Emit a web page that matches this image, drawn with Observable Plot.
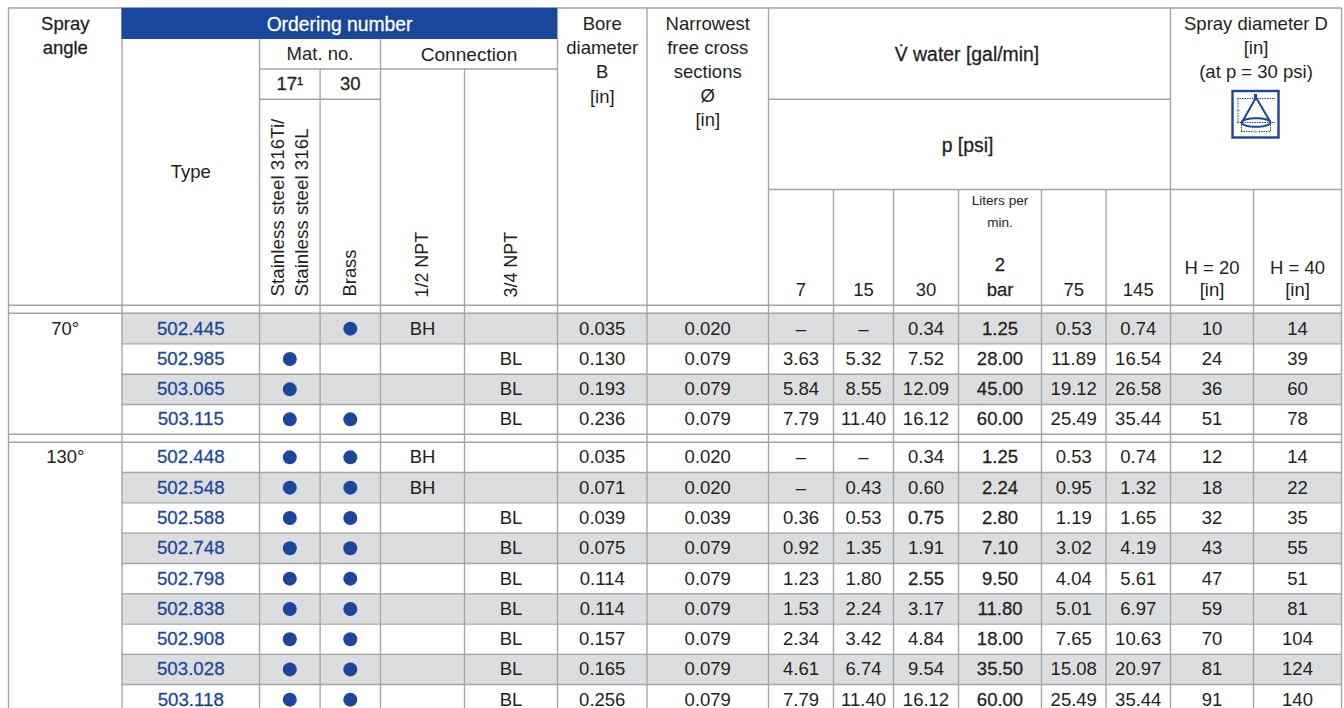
<!DOCTYPE html>
<html>
<head>
<meta charset="utf-8">
<style>
html,body{margin:0;padding:0;background:#fff;overflow:hidden}
svg{display:block}
</style>
<script src="https://cdn.jsdelivr.net/npm/d3@7"></script>
<script src="https://cdn.jsdelivr.net/npm/@observablehq/plot@0.6"></script>
</head>
<body>
<div id="chart"></div>
<script>
// ---- table content ----
const types = ["502.445","502.985","503.065","503.115","502.448","502.548","502.588","502.748","502.798","502.838","502.908","503.028","503.118"];
const angles = ["70°","130°"];
const mat17 = [0,1,1,1,1,1,1,1,1,1,1,1,1];
const mat30 = [1,0,0,1,1,1,1,1,1,1,1,1,1];
const conn12 = ["BH","","","","BH","BH","","","","","","",""];
const conn34 = ["","BL","BL","BL","","","BL","BL","BL","BL","BL","BL","BL"];
const bore = ["0.035","0.130","0.193","0.236","0.035","0.071","0.039","0.075","0.114","0.114","0.157","0.165","0.256"];
const narrowest = ["0.020","0.079","0.079","0.079","0.020","0.020","0.039","0.079","0.079","0.079","0.079","0.079","0.079"];
const p7 = ["–","3.63","5.84","7.79","–","–","0.36","0.92","1.23","1.53","2.34","4.61","7.79"];
const p15 = ["–","5.32","8.55","11.40","–","0.43","0.53","1.35","1.80","2.24","3.42","6.74","11.40"];
const p30 = ["0.34","7.52","12.09","16.12","0.34","0.60","0.75","1.91","2.55","3.17","4.84","9.54","16.12"];
const lpm2bar = ["1.25","28.00","45.00","60.00","1.25","2.24","2.80","7.10","9.50","11.80","18.00","35.50","60.00"];
const p75 = ["0.53","11.89","19.12","25.49","0.53","0.95","1.19","3.02","4.04","5.01","7.65","15.08","25.49"];
const p145 = ["0.74","16.54","26.58","35.44","0.74","1.32","1.65","4.19","5.61","6.97","10.63","20.97","35.44"];
const h20 = ["10","24","36","51","12","18","32","43","47","59","70","81","91"];
const h40 = ["14","39","60","78","14","22","35","55","51","81","104","124","140"];
const boldP30 = ["0.75","2.55"];

// ---- grid layout (pixel-valued scale domain) ----
const X = [8,121.5,259,319.6,380,464,557,646.5,768,833,893,958,1041,1105.5,1170,1253,1341];
const rowTops = [313,343.3,373.7,404,441.7,472,502.3,532.6,563,593.3,623.6,653.8,684];
const rowBottoms = [343.3,373.7,404,433.7,472,502.3,532.6,563,593.3,623.6,653.8,684,714.3];
const mid = (a,b)=>(a+b)/2;
const colMid = i => mid(X[i],X[i+1]);
const rowMid = i => mid(rowTops[i],rowBottoms[i]);
const shaded = [0,2,5,7,9,11];

const C = {blue:"#1a479b",line:"#a3a4a6",fill:"#dcddde",text:"#231f20"};
const FONT = "'Liberation Sans',Arial,Helvetica,sans-serif";
const FS = 18.5;

// body cells
const bodyCols = [[4,conn12],[5,conn34],[6,bore],[7,narrowest],[8,p7],[9,p15],[10,p30],[12,p75],[13,p145],[14,h20],[15,h40]];
const bodyRegular = bodyCols.flatMap(([c,arr])=>arr.map((t,i)=>({x:colMid(c),y:rowMid(i),t})))
  .filter(d=>d.t!=="" && !(d.x===colMid(10)&&boldP30.includes(d.t)));
const bodyBold = [
  ...lpm2bar.map((t,i)=>({x:colMid(11),y:rowMid(i),t})),
  ...p30.map((t,i)=>({x:colMid(10),y:rowMid(i),t})).filter(d=>boldP30.includes(d.t))
];
const typeCells = types.map((t,i)=>({x:colMid(1),y:rowMid(i),t}));
const angleCells = [{x:colMid(0),y:rowMid(0),t:angles[0]},{x:colMid(0),y:rowMid(4),t:angles[1]}];
const dots = [
  ...mat17.flatMap((v,i)=>v?[{x:colMid(2),y:rowMid(i)}]:[]),
  ...mat30.flatMap((v,i)=>v?[{x:colMid(3),y:rowMid(i)}]:[])
];
const fills = shaded.map(i=>({x1:X[1],x2:X[16],y1:rowTops[i],y2:rowBottoms[i]}));

// header text
const headPlain = [
  ["Mat. no.",mid(X[2],X[4]),54],["Type",colMid(1),172],
  ["Bore",colMid(6),24],["diameter",colMid(6),48],["B",colMid(6),72],["[in]",colMid(6),97],
  ["Narrowest",colMid(7),24],["free cross",colMid(7),48],["sections",colMid(7),72],["Ø",colMid(7),96],["[in]",colMid(7),120],
  ["Spray diameter D",mid(X[14],X[16]),24],["[in]",mid(X[14],X[16]),48],["(at p = 30 psi)",mid(X[14],X[16]),72],
  ["7",colMid(8),290],["15",colMid(9),290],["30",colMid(10),290],["75",colMid(12),290],["145",colMid(13),290],
  ["H = 20",colMid(14),268],["[in]",colMid(14),290],["H = 40",colMid(15),268],["[in]",colMid(15),290]
].map(([t,x,y])=>({t,x,y}));
const headMedium = [
  ["Spray",colMid(0),24],["angle",colMid(0),48],["17¹",colMid(2),84],["30",colMid(3),84],
  ["2",colMid(11),265],["bar",colMid(11),290]
].map(([t,x,y])=>({t,x,y}));
const headWideMedium = [
  ["V̇ water [gal/min]",966.5,54],["p [psi]",967,145]
].map(([t,x,y])=>({t,x,y}));
const headSmall = [["Liters per",colMid(11),200],["min.",colMid(11),222]].map(([t,x,y])=>({t,x,y}));
const headRotWide = [["Stainless steel 316Ti/",277,296],["Stainless steel 316L",301.5,296]].map(([t,x,y])=>({t,x,y}));
const headRot = [["Brass",350,296]].map(([t,x,y])=>({t,x,y}));
const headRotNarrow = [["1/2 NPT",422,297],["3/4 NPT",511,297]].map(([t,x,y])=>({t,x,y}));

// rules
const vRules = [
  [0,7.5],[1,7.5],[2,38.5],[3,68.5],[4,38.5],[5,68.5],[6,7.5],[7,7.5],[8,7.5],
  [9,189],[10,189],[11,189],[12,189],[13,189],[14,7.5],[15,189],[16,7.5]
].map(([i,y1])=>({x:X[i],y1,y2:708}));
const Y1=7.5,Y3=68.5,Y4=98.7,Y5=189,Y6=304.7,Y7=312.7,Y8=433.7,Y9=441.7;
const hRules = [
  {y:Y1,x1:X[0],x2:X[1]},{y:Y1,x1:X[6],x2:X[16]},
  {y:Y3,x1:X[2],x2:X[6]},{y:Y4,x1:X[2],x2:X[4]},{y:Y4,x1:X[8],x2:X[14]},{y:Y5,x1:X[8],x2:X[16]},
  {y:Y6,x1:X[0],x2:X[16]},{y:Y7,x1:X[0],x2:X[16]},{y:Y8,x1:X[0],x2:X[16]},{y:Y9,x1:X[0],x2:X[16]},
  ...[343.3,373.7,404,472,502.3,532.6,563,593.3,623.6,653.8,684].map(y=>({y,x1:X[1],x2:X[16]}))
];

// spray icon
const icon = {
  frame:[{x1:1232.5,x2:1278.5,y1:91,y2:137.5}],
  cone:[[1242.5,120],[1255.5,97],[1269,120]].map(([x,y])=>({x,y})),
  ellipse:d3.range(0,361,10).map(a=>({x:1255.5+14.5*Math.cos(a*Math.PI/180),y:122+4.3*Math.sin(a*Math.PI/180)})),
  nozzle:[{x1:1254,x2:1257,y1:94,y2:98}],
  dashH:[{y:98,x1:1237,x2:1275},{y:122,x1:1237,x2:1275},{y:131,x1:1241,x2:1270}],
  dashV:[{x:1237.5,y1:98,y2:122},{x:1241,y1:122,y2:131},{x:1270,y1:122,y2:131}],
  labels:[{x:1237.5,y:110,t:"H"},{x:1255.5,y:131,t:"D"}]
};

const txt = (data,opt)=>Plot.text(data,{x:"x",y:"y",text:"t",fontFamily:FONT,fontSize:FS,fill:C.text,lineAnchor:"middle",textAnchor:"middle",...opt});
const medium = c=>({stroke:c,strokeWidth:0.28,paintOrder:"normal"});

const chart = Plot.plot({
  width:1344,height:708,margin:0,
  x:{domain:[0,1344],range:[0,1344],axis:null},
  y:{domain:[0,708],range:[0,708],axis:null},
  style:{background:"#fff"},
  marks:[
    Plot.rect(fills,{x1:"x1",x2:"x2",y1:"y1",y2:"y2",fill:C.fill}),
    Plot.ruleX(vRules,{x:"x",y1:"y1",y2:"y2",stroke:C.line,strokeWidth:1.35}),
    Plot.ruleY(hRules,{y:"y",x1:"x1",x2:"x2",stroke:C.line,strokeWidth:1.35}),
    Plot.rect([{x1:X[1],x2:X[6],y1:7.5,y2:39}],{x1:"x1",x2:"x2",y1:"y1",y2:"y2",fill:C.blue}),
    txt([{t:"Ordering number",x:339,y:24}],{fill:"#fff",fontSize:19.3,...medium("#fff")}),
    txt([{t:"Connection",x:mid(X[4],X[6]),y:54.5}],{fontSize:19.1}),
    txt(headPlain),
    txt(headMedium,medium(C.text)),
    txt(headWideMedium,{fontSize:19.4,...medium(C.text)}),
    txt(headSmall,{fontSize:13.6}),
    txt(headRotWide,{rotate:-90,textAnchor:"start",fontSize:18.8}),
    txt(headRot,{rotate:-90,textAnchor:"start",fontSize:18.4}),
    txt(headRotNarrow,{rotate:-90,textAnchor:"start",fontSize:17.9}),
    txt(angleCells),
    txt(typeCells,{fill:C.blue,fontSize:18.7,...medium(C.blue)}),
    txt(bodyRegular),
    txt(bodyBold,medium(C.text)),
    Plot.dot(dots,{x:"x",y:"y",r:7,fill:C.blue}),
    // icon
    Plot.rect(icon.frame,{x1:"x1",x2:"x2",y1:"y1",y2:"y2",fill:"#fff",stroke:C.blue,strokeWidth:2.4}),
    Plot.ruleY(icon.dashH,{y:"y",x1:"x1",x2:"x2",stroke:C.blue,strokeWidth:1,strokeDasharray:"1.5,1"}),
    Plot.ruleX(icon.dashV,{x:"x",y1:"y1",y2:"y2",stroke:C.blue,strokeWidth:1,strokeDasharray:"1.5,1"}),
    Plot.line(icon.cone,{x:"x",y:"y",stroke:C.blue,strokeWidth:2}),
    Plot.line(icon.ellipse,{x:"x",y:"y",stroke:C.blue,strokeWidth:2}),
    Plot.rect(icon.nozzle,{x1:"x1",x2:"x2",y1:"y1",y2:"y2",fill:C.blue}),
    Plot.text(icon.labels,{x:"x",y:"y",text:"t",fontFamily:FONT,fontSize:4,fill:C.blue,stroke:"#fff",strokeWidth:1.5})
  ]
});
document.getElementById("chart").appendChild(chart);
</script>
</body>
</html>
